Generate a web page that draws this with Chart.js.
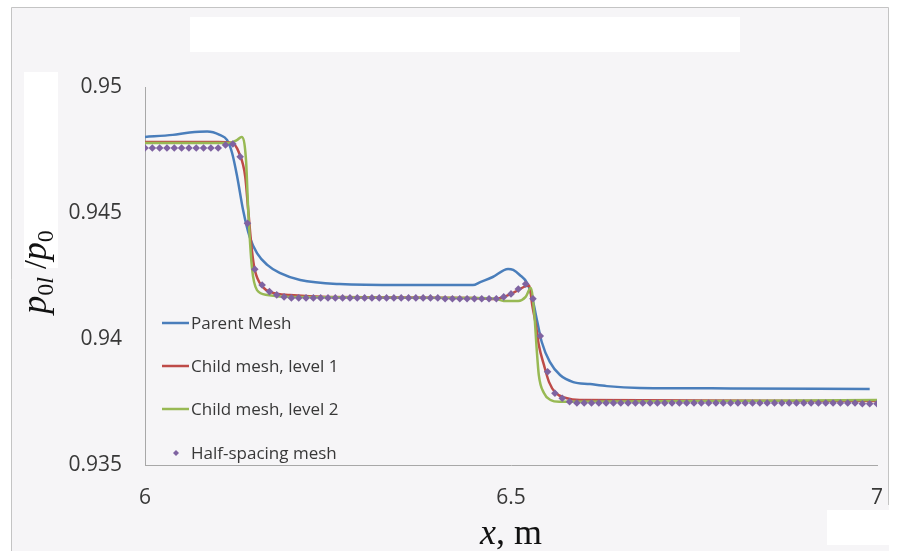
<!DOCTYPE html>
<html><head><meta charset="utf-8">
<script src="https://cdn.jsdelivr.net/npm/chart.js@4"></script>
<style>html,body{margin:0;padding:0;background:#fff}#wrap{width:898px;height:551px;position:relative}</style>
</head><body><div id="wrap"><canvas id="c" width="898" height="551"></canvas></div>
<script>
const seriesNames = ['Parent Mesh', 'Child mesh, level 1', 'Child mesh, level 2', 'Half-spacing mesh'];
const seriesColors = ['#4A7EBB', '#BE4B48', '#98B954', '#7F63A1'];

const xTicks = [6, 6.5, 7];
const xTickLabels = ['6', '6.5', '7'];
const yTicks = [0.935, 0.94, 0.945, 0.95];
const yTickLabels = ['0.935', '0.94', '0.945', '0.95'];

const parentX = [6.000, 6.038, 6.061, 6.085, 6.102, 6.112, 6.119, 6.126, 6.134, 6.143, 6.153, 6.167, 6.184, 6.212, 6.266, 6.350, 6.448, 6.458, 6.475, 6.496, 6.503, 6.512, 6.522, 6.529, 6.536, 6.542, 6.553, 6.567, 6.585, 6.608, 6.631, 6.676, 6.800, 6.990];
const parentY = [0.94802, 0.94810, 0.94819, 0.94823, 0.94810, 0.94790, 0.94738, 0.94643, 0.94512, 0.94405, 0.94341, 0.94294, 0.94262, 0.94234, 0.94218, 0.94214, 0.94214, 0.94226, 0.94246, 0.94278, 0.94274, 0.94254, 0.94222, 0.94163, 0.94067, 0.93988, 0.93909, 0.93857, 0.93829, 0.93821, 0.93813, 0.93806, 0.93804, 0.93802];

const child1X = [6.000, 6.100, 6.119, 6.128, 6.137, 6.141, 6.146, 6.150, 6.161, 6.175, 6.198, 6.250, 6.450, 6.480, 6.490, 6.500, 6.510, 6.520, 6.525, 6.529, 6.534, 6.538, 6.545, 6.552, 6.561, 6.575, 6.594, 7.000];
const child1Y = [0.94782, 0.94782, 0.94778, 0.94742, 0.94643, 0.94512, 0.94353, 0.94274, 0.94206, 0.94183, 0.94175, 0.94167, 0.94163, 0.94159, 0.94167, 0.94179, 0.94194, 0.94210, 0.94212, 0.94135, 0.94056, 0.93976, 0.93897, 0.93829, 0.93786, 0.93766, 0.93758, 0.93754];

const child2X = [6.000, 6.115, 6.126, 6.132, 6.138, 6.141, 6.146, 6.153, 6.167, 6.200, 6.450, 6.480, 6.490, 6.510, 6.520, 6.527, 6.532, 6.535, 6.538, 6.545, 6.554, 6.566, 7.000];
const child2Y = [0.94778, 0.94778, 0.94790, 0.94802, 0.94710, 0.94512, 0.94286, 0.94194, 0.94175, 0.94167, 0.94163, 0.94159, 0.94151, 0.94151, 0.94167, 0.94202, 0.94095, 0.93964, 0.93857, 0.93786, 0.93758, 0.93751, 0.93758];

const halfX = [6.00, 6.01, 6.02, 6.03, 6.04, 6.05, 6.06, 6.07, 6.08, 6.09,
  6.10, 6.11, 6.12, 6.13, 6.14, 6.15, 6.16, 6.17, 6.18, 6.19,
  6.20, 6.21, 6.22, 6.23, 6.24, 6.25, 6.26, 6.27, 6.28, 6.29,
  6.30, 6.31, 6.32, 6.33, 6.34, 6.35, 6.36, 6.37, 6.38, 6.39,
  6.40, 6.41, 6.42, 6.43, 6.44, 6.45, 6.46, 6.47, 6.48, 6.49,
  6.50, 6.51, 6.52, 6.53, 6.54, 6.55, 6.56, 6.57, 6.58, 6.59,
  6.60, 6.61, 6.62, 6.63, 6.64, 6.65, 6.66, 6.67, 6.68, 6.69,
  6.70, 6.71, 6.72, 6.73, 6.74, 6.75, 6.76, 6.77, 6.78, 6.79,
  6.80, 6.81, 6.82, 6.83, 6.84, 6.85, 6.86, 6.87, 6.88, 6.89,
  6.90, 6.91, 6.92, 6.93, 6.94, 6.95, 6.96, 6.97, 6.98, 6.99, 7.00];
const halfY = [0.94758, 0.94758, 0.94758, 0.94758, 0.94758, 0.94758, 0.94758, 0.94758, 0.94758, 0.94758,
  0.94758, 0.94770, 0.94774, 0.94723, 0.94459, 0.94277, 0.94214, 0.94188, 0.94175, 0.94167,
  0.94163, 0.94163, 0.94163, 0.94163, 0.94163, 0.94163, 0.94163, 0.94163, 0.94163, 0.94163,
  0.94163, 0.94163, 0.94163, 0.94163, 0.94163, 0.94163, 0.94163, 0.94163, 0.94163, 0.94163,
  0.94163, 0.94160, 0.94160, 0.94160, 0.94160, 0.94160, 0.94160, 0.94160, 0.94160, 0.94167,
  0.94179, 0.94198, 0.94218, 0.94160, 0.94012, 0.93870, 0.93785, 0.93765, 0.93751, 0.93746,
  0.93746, 0.93746, 0.93746, 0.93746, 0.93746, 0.93746, 0.93746, 0.93746, 0.93746, 0.93746,
  0.93746, 0.93746, 0.93746, 0.93746, 0.93746, 0.93746, 0.93746, 0.93746, 0.93746, 0.93746,
  0.93746, 0.93746, 0.93746, 0.93746, 0.93746, 0.93746, 0.93746, 0.93746, 0.93746, 0.93746,
  0.93746, 0.93746, 0.93746, 0.93746, 0.93746, 0.93746, 0.93746, 0.93746, 0.93743, 0.93743, 0.93743];

const toPts = (xs, ys) => xs.map((x, i) => ({x: x, y: ys[i]}));

const TEXT = '#383838';
const SANS = '"Open Sans", "Liberation Sans", sans-serif';
const SERIF = '"Liberation Serif", "DejaVu Serif", serif';

const decor = {
  id: 'decor',
  beforeDraw(chart) {
    const ctx = chart.ctx;
    ctx.save();
    ctx.fillStyle = '#ffffff';
    ctx.fillRect(0, 0, chart.width, chart.height);
    ctx.fillStyle = '#f6f5f7';
    ctx.fillRect(11, 7, 878, 544);
    ctx.strokeStyle = '#c4c4c4';
    ctx.lineWidth = 1;
    ctx.beginPath();
    ctx.moveTo(11.5, 551); ctx.lineTo(11.5, 7.5); ctx.lineTo(888.5, 7.5); ctx.lineTo(888.5, 505);
    ctx.stroke();
    ctx.fillStyle = '#ffffff';
    ctx.fillRect(190, 17, 550, 35);
    ctx.fillRect(24, 72, 34, 196);
    ctx.fillRect(827, 510, 64, 35);
    ctx.restore();
  },
  afterDraw(chart) {
    const ctx = chart.ctx;
    const ca = chart.chartArea;
    ctx.save();
    // legend
    const rows = [323, 366, 409, 453];
    ctx.font = '17px ' + SANS;
    ctx.textBaseline = 'middle';
    ctx.textAlign = 'left';
    chart.data.datasets.forEach((ds, i) => {
      const y = rows[i];
      if (i < 3) {
        ctx.strokeStyle = ds.borderColor;
        ctx.lineWidth = 2.5;
        ctx.beginPath(); ctx.moveTo(162, y); ctx.lineTo(189, y); ctx.stroke();
      } else {
        ctx.fillStyle = ds.backgroundColor;
        ctx.beginPath();
        ctx.moveTo(176, y - 3); ctx.lineTo(179, y); ctx.lineTo(176, y + 3); ctx.lineTo(173, y); ctx.closePath();
        ctx.fill();
      }
      ctx.fillStyle = TEXT;
      ctx.fillText(ds.label, 191, y + 1);
    });
    // x title
    ctx.fillStyle = '#111';
    ctx.textBaseline = 'alphabetic';
    const cx = (ca.left + ca.right) / 2;
    ctx.font = 'italic 36px ' + SERIF;
    const wx = ctx.measureText('x').width;
    ctx.font = '36px ' + SERIF;
    const wr = ctx.measureText(', m').width;
    let sx = cx - (wx + wr) / 2;
    ctx.font = 'italic 36px ' + SERIF;
    ctx.fillText('x', sx, 544);
    ctx.font = '36px ' + SERIF;
    ctx.fillText(', m', sx + wx, 544);
    // y title (rotated)
    ctx.translate(46, 272);
    ctx.rotate(-Math.PI / 2);
    const parts = [
      {t: 'p', f: 'italic 36px ', dy: 0},
      {t: '0', f: '24px ', dy: 7},
      {t: 'l', f: 'italic 24px ', dy: 7},
      {t: ' /', f: '32px ', dy: 0},
      {t: 'p', f: 'italic 36px ', dy: 0},
      {t: '0', f: '24px ', dy: 7}
    ];
    let total = 0;
    parts.forEach(p => { ctx.font = p.f + SERIF; p.w = ctx.measureText(p.t).width; total += p.w; });
    let px = -total / 2;
    parts.forEach(p => { ctx.font = p.f + SERIF; ctx.fillText(p.t, px, p.dy); px += p.w; });
    ctx.restore();
  }
};

const chart = new Chart(document.getElementById('c'), {
  type: 'line',
  data: {
    datasets: [
      {label: seriesNames[0], data: toPts(parentX, parentY), borderColor: seriesColors[0], backgroundColor: seriesColors[0], borderWidth: 2.5, pointRadius: 0, cubicInterpolationMode: 'monotone', order: 4},
      {label: seriesNames[1], data: toPts(child1X, child1Y), borderColor: seriesColors[1], backgroundColor: seriesColors[1], borderWidth: 2.5, pointRadius: 0, cubicInterpolationMode: 'monotone', order: 3},
      {label: seriesNames[2], data: toPts(child2X, child2Y), borderColor: seriesColors[2], backgroundColor: seriesColors[2], borderWidth: 2.5, pointRadius: 0, cubicInterpolationMode: 'monotone', order: 2},
      {label: seriesNames[3], data: toPts(halfX, halfY), showLine: false, borderColor: seriesColors[3], backgroundColor: seriesColors[3], pointStyle: 'rectRot', pointRadius: 3.8, pointBorderWidth: 0, order: 1}
    ]
  },
  options: {
    responsive: false,
    devicePixelRatio: 1,
    animation: false,
    events: [],
    layout: {padding: {left: 0, right: 21, top: 87, bottom: 0}},
    plugins: {legend: {display: false}, tooltip: {enabled: false}, title: {display: false}},
    scales: {
      x: {
        type: 'linear', position: 'bottom', min: 6, max: 7,
        afterFit: s => { s.height = 86; s.paddingLeft = 0; s.paddingRight = 0; },
        afterBuildTicks: s => { s.ticks = xTicks.map(v => ({value: v})); },
        grid: {display: false, drawTicks: false},
        border: {display: true, color: '#a8a8a8', width: 1},
        ticks: {padding: 20, color: TEXT, font: {family: SANS, size: 21}, maxRotation: 0, autoSkip: false,
          callback: (v, i) => xTickLabels[i]}
      },
      y: {
        type: 'linear', position: 'left', min: 0.935, max: 0.95,
        afterFit: s => { s.width = 145; s.paddingTop = 0; s.paddingBottom = 0; },
        afterBuildTicks: s => { s.ticks = yTicks.map(v => ({value: v})); },
        grid: {display: false, drawTicks: false},
        border: {display: true, color: '#a8a8a8', width: 1},
        ticks: {padding: 23, color: TEXT, font: {family: SANS, size: 21}, autoSkip: false,
          callback: (v, i) => yTickLabels[i]}
      }
    }
  },
  plugins: [decor]
});
</script>
</body></html>
